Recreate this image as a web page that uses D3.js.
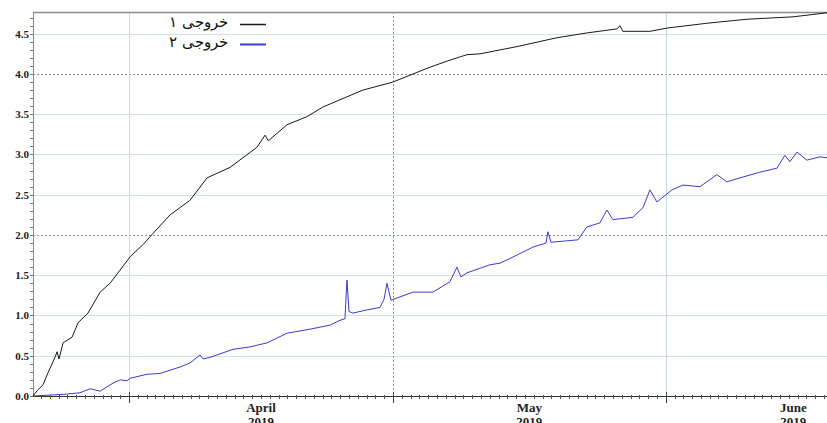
<!DOCTYPE html>
<html>
<head>
<meta charset="utf-8">
<script src="https://cdn.jsdelivr.net/npm/d3@7"></script>
<style>
  body { margin: 0; background: #fff; }
  svg { display: block; }
  .tick_lbl { font-family: "Liberation Serif", "DejaVu Serif", serif; font-weight: bold; fill: #222; }
</style>
</head>
<body>
<svg id="chart_svg" width="827" height="423"></svg>
<script>
// output 1 (black)
var out1_dates = ["2019-03-21 02:00", "2019-03-21 16:00", "2019-03-22 05:30", "2019-03-22 19:00", "2019-03-23 14:00",
    "2019-03-23 19:40", "2019-03-24 01:00", "2019-03-24 12:00", "2019-03-25 12:30", "2019-03-26 05:00",
    "2019-03-27 08:00", "2019-03-28 17:00", "2019-03-29 20:00", "2019-03-30 18:00", "2019-04-01 03:00",
    "2019-04-02 14:00", "2019-04-03 17:30", "2019-04-05 16:00", "2019-04-07 22:00", "2019-04-09 21:00",
    "2019-04-12 11:30", "2019-04-15 13:00", "2019-04-16 11:00", "2019-04-16 20:00", "2019-04-18 23:00",
    "2019-04-21 05:30", "2019-04-23 01:00", "2019-04-24 23:30", "2019-04-27 14:00", "2019-05-01 00:00",
    "2019-05-03 17:30", "2019-05-04 20:40", "2019-05-07 03:20", "2019-05-09 10:00", "2019-05-10 21:00",
    "2019-05-15 02:00", "2019-05-19 15:00", "2019-05-23 01:00", "2019-05-26 11:00", "2019-05-26 19:00",
    "2019-05-27 03:00", "2019-05-30 05:00", "2019-06-01 03:00", "2019-06-05 16:00", "2019-06-10 05:30",
    "2019-06-15 11:00", "2019-06-19 08:00"];
var out1_values = [0.00, 0.08, 0.14, 0.29, 0.48,
    0.55, 0.46, 0.66, 0.73, 0.91,
    1.03, 1.29, 1.40, 1.53, 1.73,
    1.88, 2.02, 2.25, 2.43, 2.71,
    2.84, 3.09, 3.24, 3.17, 3.37,
    3.47, 3.59, 3.68, 3.80, 3.90,
    4.02, 4.07, 4.16, 4.24, 4.25,
    4.34, 4.45, 4.51, 4.56, 4.60,
    4.53, 4.53, 4.57, 4.63, 4.68,
    4.71, 4.76];

// output 2 (blue)
var out2_dates = ["2019-03-21 02:00", "2019-03-24 12:00", "2019-03-26 10:00", "2019-03-27 13:40", "2019-03-28 17:00",
    "2019-03-30 04:20", "2019-03-31 00:00", "2019-03-31 18:30", "2019-04-01 03:00", "2019-04-03 01:00",
    "2019-04-04 12:30", "2019-04-06 19:00", "2019-04-07 22:00", "2019-04-09 01:40", "2019-04-09 10:00",
    "2019-04-10 05:00", "2019-04-12 19:40", "2019-04-14 18:00", "2019-04-16 16:30", "2019-04-18 23:00",
    "2019-04-21 13:40", "2019-04-23 20:00", "2019-04-24 23:30", "2019-04-25 13:00", "2019-04-25 18:30",
    "2019-04-26 00:00", "2019-04-26 11:00", "2019-04-28 01:00", "2019-04-29 12:30", "2019-04-29 23:30",
    "2019-04-30 07:40", "2019-04-30 18:30", "2019-05-03 06:30", "2019-05-05 13:00", "2019-05-07 11:30",
    "2019-05-08 06:30", "2019-05-08 17:30", "2019-05-09 10:00", "2019-05-12 00:30", "2019-05-13 04:00",
    "2019-05-15 02:00", "2019-05-16 22:00", "2019-05-18 09:30", "2019-05-18 14:40", "2019-05-18 23:00",
    "2019-05-22 00:30", "2019-05-23 01:00", "2019-05-24 12:30", "2019-05-25 07:40", "2019-05-26 00:00",
    "2019-05-28 06:30", "2019-05-29 10:00", "2019-05-30 05:00", "2019-05-31 00:00", "2019-06-01 17:00",
    "2019-06-02 23:00", "2019-06-04 21:30", "2019-06-06 19:40", "2019-06-07 23:00", "2019-06-09 18:30",
    "2019-06-11 17:00", "2019-06-13 15:30", "2019-06-14 13:00", "2019-06-15 02:40", "2019-06-15 22:00",
    "2019-06-17 01:00", "2019-06-18 12:30", "2019-06-19 08:00"];
var out2_values = [0.00, 0.02, 0.04, 0.09, 0.06,
    0.16, 0.20, 0.19, 0.22, 0.27,
    0.28, 0.36, 0.41, 0.51, 0.46,
    0.48, 0.58, 0.61, 0.66, 0.78,
    0.83, 0.88, 0.94, 0.96, 1.44,
    1.05, 1.03, 1.07, 1.10, 1.20,
    1.40, 1.19, 1.29, 1.29, 1.42,
    1.60, 1.48, 1.53, 1.63, 1.65,
    1.75, 1.85, 1.90, 2.04, 1.91,
    1.94, 2.10, 2.15, 2.31, 2.19,
    2.22, 2.34, 2.56, 2.41, 2.56,
    2.62, 2.60, 2.75, 2.66, 2.72,
    2.78, 2.83, 2.99, 2.91, 3.03,
    2.93, 2.97, 2.96];

var y_tick_values = [0.0, 0.5, 1.0, 1.5, 2.0, 2.5, 3.0, 3.5, 4.0, 4.5];
var month_labels = [["2019-04-16 00:00", "April"], ["2019-05-16 12:00", "May"], ["2019-06-15 12:00", "June"]];
var legend_names = ["خروجی ۱", "خروجی ۲"];
var series_colors = ["#1a1a1a", "#3b3bd0"];

var parse = d3.timeParse("%Y-%m-%d %H:%M");

main();
function main() {
    var svg = d3.select("#chart_svg");
    var left = 33, right = 827, top = 12, bottom = 396;

    var x = d3.scaleTime()
        .domain([parse("2019-03-21 02:00"), parse("2019-06-19 08:00")])
        .range([left, right]);
    var y = d3.scaleLinear()
        .domain([0, 4.77])
        .range([bottom, top]);

    // horizontal grid
    svg.append("g").selectAll("line")
        .data(y_tick_values.filter(function (d) { return d > 0; }))
        .enter().append("line")
        .attr("x1", left).attr("x2", right)
        .attr("y1", function (d) { return Math.round(y(d)) + 0.5; })
        .attr("y2", function (d) { return Math.round(y(d)) + 0.5; })
        .attr("stroke", function (d) { return (d == 2 || d == 4) ? "#7f8fa0" : "#d3e2e2"; })
        .attr("stroke-dasharray", function (d) { return (d == 2 || d == 4) ? "2,2" : null; });

    // vertical grid at month starts
    var months = x.ticks(d3.timeMonth);
    svg.append("g").selectAll("line")
        .data(months)
        .enter().append("line")
        .attr("x1", function (d) { return Math.round(x(d)) + 0.5; })
        .attr("x2", function (d) { return Math.round(x(d)) + 0.5; })
        .attr("y1", top).attr("y2", bottom)
        .attr("stroke", function (d) { return d.getMonth() == 4 ? "#8a9aaa" : "#cadbe2"; })
        .attr("stroke-dasharray", function (d) { return d.getMonth() == 4 ? "2,2" : null; });

    // frame
    svg.append("line")
        .attr("x1", left).attr("x2", right).attr("y1", top + 0.5).attr("y2", top + 0.5)
        .attr("stroke", "#8a8a8a").attr("stroke-width", 1.5);
    svg.append("line")
        .attr("x1", left + 0.5).attr("x2", left + 0.5).attr("y1", top).attr("y2", bottom)
        .attr("stroke", "#8a8a8a");

    // y axis minor ticks
    svg.append("g").selectAll("line")
        .data(y.ticks(48))
        .enter().append("line")
        .attr("x1", left - 3).attr("x2", left)
        .attr("y1", function (d) { return Math.round(y(d)) + 0.5; })
        .attr("y2", function (d) { return Math.round(y(d)) + 0.5; })
        .attr("stroke", "#777");

    svg.append("g").selectAll("text")
        .data(y_tick_values)
        .enter().append("text")
        .attr("class", "tick_lbl")
        .attr("x", left - 4)
        .attr("y", function (d) { return y(d) + 4; })
        .attr("text-anchor", "end")
        .style("font-size", "11px")
        .text(function (d) { return d.toFixed(1); });

    // x axis
    svg.append("line")
        .attr("x1", left).attr("x2", right).attr("y1", bottom + 0.5).attr("y2", bottom + 0.5)
        .attr("stroke", "#333");
    svg.append("g").selectAll("line")
        .data(x.ticks(d3.timeDay))
        .enter().append("line")
        .attr("x1", function (d) { return Math.round(x(d)) + 0.5; })
        .attr("x2", function (d) { return Math.round(x(d)) + 0.5; })
        .attr("y1", bottom - 1).attr("y2", bottom + 3)
        .attr("stroke", "#555");
    svg.append("g").selectAll("line")
        .data(months)
        .enter().append("line")
        .attr("x1", function (d) { return Math.round(x(d)) + 0.5; })
        .attr("x2", function (d) { return Math.round(x(d)) + 0.5; })
        .attr("y1", bottom - 4).attr("y2", bottom + 7)
        .attr("stroke", "#444");

    var mlab = svg.append("g").selectAll("g")
        .data(month_labels)
        .enter().append("g")
        .attr("transform", function (d) { return "translate(" + x(parse(d[0])) + ",0)"; });
    mlab.append("text")
        .attr("class", "tick_lbl")
        .attr("y", 412)
        .attr("text-anchor", "middle")
        .style("font-size", "13px")
        .text(function (d) { return d[1]; });
    mlab.append("text")
        .attr("class", "tick_lbl")
        .attr("y", 426)
        .attr("text-anchor", "middle")
        .style("font-size", "13px")
        .text("2019");

    // series
    var line = d3.line()
        .x(function (d) { return x(d[0]); })
        .y(function (d) { return y(d[1]); });
    var s1 = out1_dates.map(function (d, i) { return [parse(d), out1_values[i]]; });
    var s2 = out2_dates.map(function (d, i) { return [parse(d), out2_values[i]]; });

    svg.append("path").datum(s2)
        .attr("d", line)
        .attr("fill", "none")
        .attr("stroke", series_colors[1])
        .attr("stroke-width", 1);
    svg.append("path").datum(s1)
        .attr("d", line)
        .attr("fill", "none")
        .attr("stroke", series_colors[0])
        .attr("stroke-width", 1);

    // legend
    var leg = svg.append("g").selectAll("g")
        .data(legend_names)
        .enter().append("g")
        .attr("transform", function (d, i) { return "translate(0," + (24 + i * 20) + ")"; });
    leg.append("line")
        .attr("x1", 240).attr("x2", 266)
        .attr("y1", 0.5).attr("y2", 0.5)
        .attr("stroke", function (d, i) { return series_colors[i]; })
        .attr("stroke-width", function (d, i) { return i == 1 ? 2 : 1.5; });
    leg.append("text")
        .attr("x", 228)
        .attr("y", 3)
        .attr("text-anchor", "end")
        .style("font-family", "'DejaVu Serif', 'Noto Sans', serif")
        .style("font-size", "15px")
        .style("fill", "#111")
        .text(function (d) { return d; });
}
</script>
</body>
</html>
